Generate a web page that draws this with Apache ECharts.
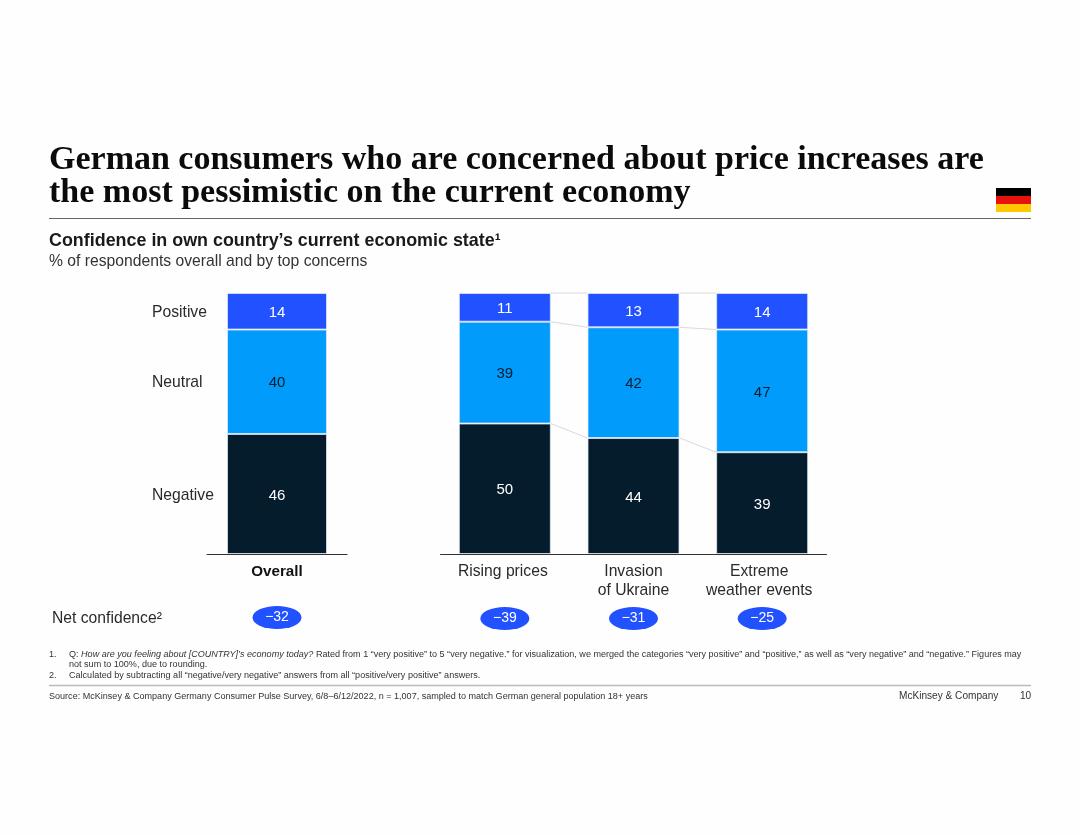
<!DOCTYPE html>
<html><head><meta charset="utf-8">
<style>html,body{margin:0;padding:0;background:#fefefe}#c{width:1080px;height:835px}</style>
<script src="https://cdn.jsdelivr.net/npm/echarts@6/dist/echarts.min.js"></script>
</head><body><div id="c"></div>
<script>
const overallCategories = ['Overall'];
const concernCategories = ['Rising prices', 'Invasion\nof Ukraine', 'Extreme\nweather events'];
const overallPositive = [14];
const overallNeutral = [40];
const overallNegative = [46];
const concernPositive = [11, 13, 14];
const concernNeutral = [39, 42, 47];
const concernNegative = [50, 44, 39];
const overallNet = [-32];
const concernNet = [-39, -31, -25];
const rowNames = ['Positive', 'Neutral', 'Negative'];

const C = {pos:'#2251ff', neu:'#009bfb', neg:'#051c2c', ink:'#2a2a2a', sans:'"Liberation Sans", Arial, sans-serif'};
const CONCERN_BAR = 92;
const LABEL_SHIFT = [4, 0, 6];

// Stacks fill the full height even where rounded figures sum to 99.
function shares(v, a, b, c) { return v.map((x, i) => x / (a[i] + b[i] + c[i]) * 100); }
function barSeries(name, values, a, b, c, color, labelColor, axis, stack, width) {
  return {
    type:'bar', name, stack, xAxisIndex:axis, yAxisIndex:axis, barWidth:width,
    data: shares(values, a, b, c),
    itemStyle:{color, borderColor:'rgba(225,235,250,.75)', borderWidth:1},
    label:{show:true, position:'inside', offset:[0,1.5], color:labelColor, fontFamily:C.sans, fontSize:15,
      formatter:p => String(values[p.dataIndex])},
    silent:true
  };
}
function connectorData() {
  const neg = shares(concernNegative, concernNegative, concernNeutral, concernPositive);
  const neu = shares(concernNeutral, concernNegative, concernNeutral, concernPositive);
  const out = [];
  for (let i = 0; i < neg.length - 1; i++) {
    out.push([i, 100, 100]);
    out.push([i, neg[i] + neu[i], neg[i+1] + neu[i+1]]);
    out.push([i, neg[i], neg[i+1]]);
  }
  return out;
}
function netSeries(values, axis) {
  return {
    type:'scatter', xAxisIndex:axis, yAxisIndex:axis, symbol:'circle', symbolSize:[49,23], silent:true,
    data: values.map((v, i) => [i, 0]),
    itemStyle:{color:C.pos, opacity:1},
    label:{show:true, position:'inside', color:'#fff', fontFamily:C.sans, fontSize:14,
      formatter:p => '\u2212' + Math.abs(values[p.dataIndex])}
  };
}
function txt(text, x, y, size, extra) {
  return {type:'text', x, y, silent:true, style:Object.assign({text, fontSize:size, fontFamily:C.sans, fill:C.ink,
    textVerticalAlign:'middle', verticalAlign:'middle'}, extra||{})};
}
function hr(x1, x2, y, color, w) {
  return {type:'line', silent:true, shape:{x1, y1:y, x2, y2:y}, style:{stroke:color, lineWidth:w}};
}
function band(y, h, color) {
  return {type:'rect', silent:true, shape:{x:996, y, width:35, height:h}, style:{fill:color}};
}
const NOTE = 9.05;
const titleStyle = {fontFamily:'"Liberation Serif", serif', fontWeight:'bold', fill:'#0b0b0b'};
const noteRich = {fontSize:NOTE, fontFamily:C.sans, fill:'#333'};
const noteStyle = {fill:'#333', rich:{i:{fontStyle:'italic', fontSize:NOTE, fontFamily:C.sans, fill:'#333'}, r:noteRich}};

const chart = echarts.init(document.getElementById('c'), null, {renderer:'canvas'});
const hiddenY = i => ({type:'value', gridIndex:i, min:0, max:100, show:false});
chart.setOption({
  animation:false,
  backgroundColor:'#fefefe',
  grid:[
    {left:207, top:293, width:140, height:261},
    {left:440.5, top:293, width:386, height:261},
    {left:207, top:606, width:140, height:23},
    {left:440.5, top:607, width:386, height:23}
  ],
  xAxis:[
    {type:'category', gridIndex:0, data:overallCategories, axisTick:{show:false},
      axisLine:{lineStyle:{color:'#333', width:1}},
      axisLabel:{margin:8, color:'#111', fontFamily:C.sans, fontWeight:'bold', fontSize:15.2, lineHeight:19}},
    {type:'category', gridIndex:1, axisTick:{show:false},
      data:concernCategories.map((value, i) => ({value, textStyle:{padding:[0, LABEL_SHIFT[i], 0, 0]}})),
      axisLine:{lineStyle:{color:'#333', width:1}},
      axisLabel:{interval:0, margin:8, hideOverlap:false, color:C.ink, fontFamily:C.sans, fontSize:15.7, lineHeight:19}},
    {type:'category', gridIndex:2, data:overallCategories, show:false},
    {type:'category', gridIndex:3, data:concernCategories, show:false}
  ],
  yAxis:[hiddenY(0), hiddenY(1), {type:'value', gridIndex:2, min:-1, max:1, show:false}, {type:'value', gridIndex:3, min:-1, max:1, show:false}],
  series:[
    barSeries('Negative', overallNegative, overallNegative, overallNeutral, overallPositive, C.neg, '#fff', 0, 'overall', 100),
    barSeries('Neutral', overallNeutral, overallNegative, overallNeutral, overallPositive, C.neu, C.neg, 0, 'overall', 100),
    barSeries('Positive', overallPositive, overallNegative, overallNeutral, overallPositive, C.pos, '#fff', 0, 'overall', 100),
    barSeries('Negative', concernNegative, concernNegative, concernNeutral, concernPositive, C.neg, '#fff', 1, 'concerns', CONCERN_BAR),
    barSeries('Neutral', concernNeutral, concernNegative, concernNeutral, concernPositive, C.neu, C.neg, 1, 'concerns', CONCERN_BAR),
    barSeries('Positive', concernPositive, concernNegative, concernNeutral, concernPositive, C.pos, '#fff', 1, 'concerns', CONCERN_BAR),
    {type:'custom', xAxisIndex:1, yAxisIndex:1, silent:true, clip:false, data:connectorData(),
      encode:{x:0, y:1},
      renderItem:(params, api) => {
        const a = api.coord([api.value(0), api.value(1)]);
        const b = api.coord([api.value(0) + 1, api.value(2)]);
        return {type:'line', shape:{x1:a[0] + CONCERN_BAR/2, y1:a[1], x2:b[0] - CONCERN_BAR/2, y2:b[1]},
          style:{stroke:'#dcd8de', lineWidth:1}};
      }},
    netSeries(overallNet, 2),
    netSeries(concernNet, 3)
  ],
  graphic:[
    txt('German consumers who are concerned about price increases are', 49, 160, 34, titleStyle),
    txt('the most pessimistic on the current economy', 49, 193, 34, titleStyle),
    hr(49, 1031, 218.5, '#666', 1),
    band(188, 8, '#000'), band(196, 8, '#e8120c'), band(204, 8, '#ffc800'),
    txt('Confidence in own country\u2019s current economic state\u00b9', 49, 241.5, 17.9, {fontWeight:'bold', fill:'#1a1a1a'}),
    txt('% of respondents overall and by top concerns', 49, 261.5, 15.7, {fill:'#333'}),
    txt(rowNames[0], 152, 313, 15.7),
    txt(rowNames[1], 152, 383, 15.7),
    txt(rowNames[2], 152, 496, 15.7),
    txt('Net confidence\u00b2', 52, 618.5, 15.7),
    txt('1.', 49, 654.5, NOTE, {fill:'#333'}),
    txt('{r|Q: }{i|How are you feeling about [COUNTRY]\u2019s economy today?}{r| Rated from 1 \u201cvery positive\u201d to 5 \u201cvery negative.\u201d for visualization, we merged the categories \u201cvery positive\u201d and \u201cpositive,\u201d as well as \u201cvery negative\u201d and \u201cnegative.\u201d Figures may}', 69, 654.5, NOTE, noteStyle),
    txt('not sum to 100%, due to rounding.', 69, 665, NOTE, {fill:'#333'}),
    txt('2.', 49, 675.5, NOTE, {fill:'#333'}),
    txt('Calculated by subtracting all \u201cnegative/very negative\u201d answers from all \u201cpositive/very positive\u201d answers.', 69, 675.5, NOTE, {fill:'#333'}),
    hr(49, 1031, 685.5, '#bbb', 1.5),
    txt('Source: McKinsey & Company Germany Consumer Pulse Survey, 6/8\u20136/12/2022, n = 1,007, sampled to match German general population 18+ years', 49, 696.5, NOTE, {fill:'#333'}),
    txt('McKinsey & Company', 899, 696.5, 10.1, {fill:'#333'}),
    txt('10', 1020, 696.5, 10.1, {fill:'#333'})
  ]
});
</script></body></html>
